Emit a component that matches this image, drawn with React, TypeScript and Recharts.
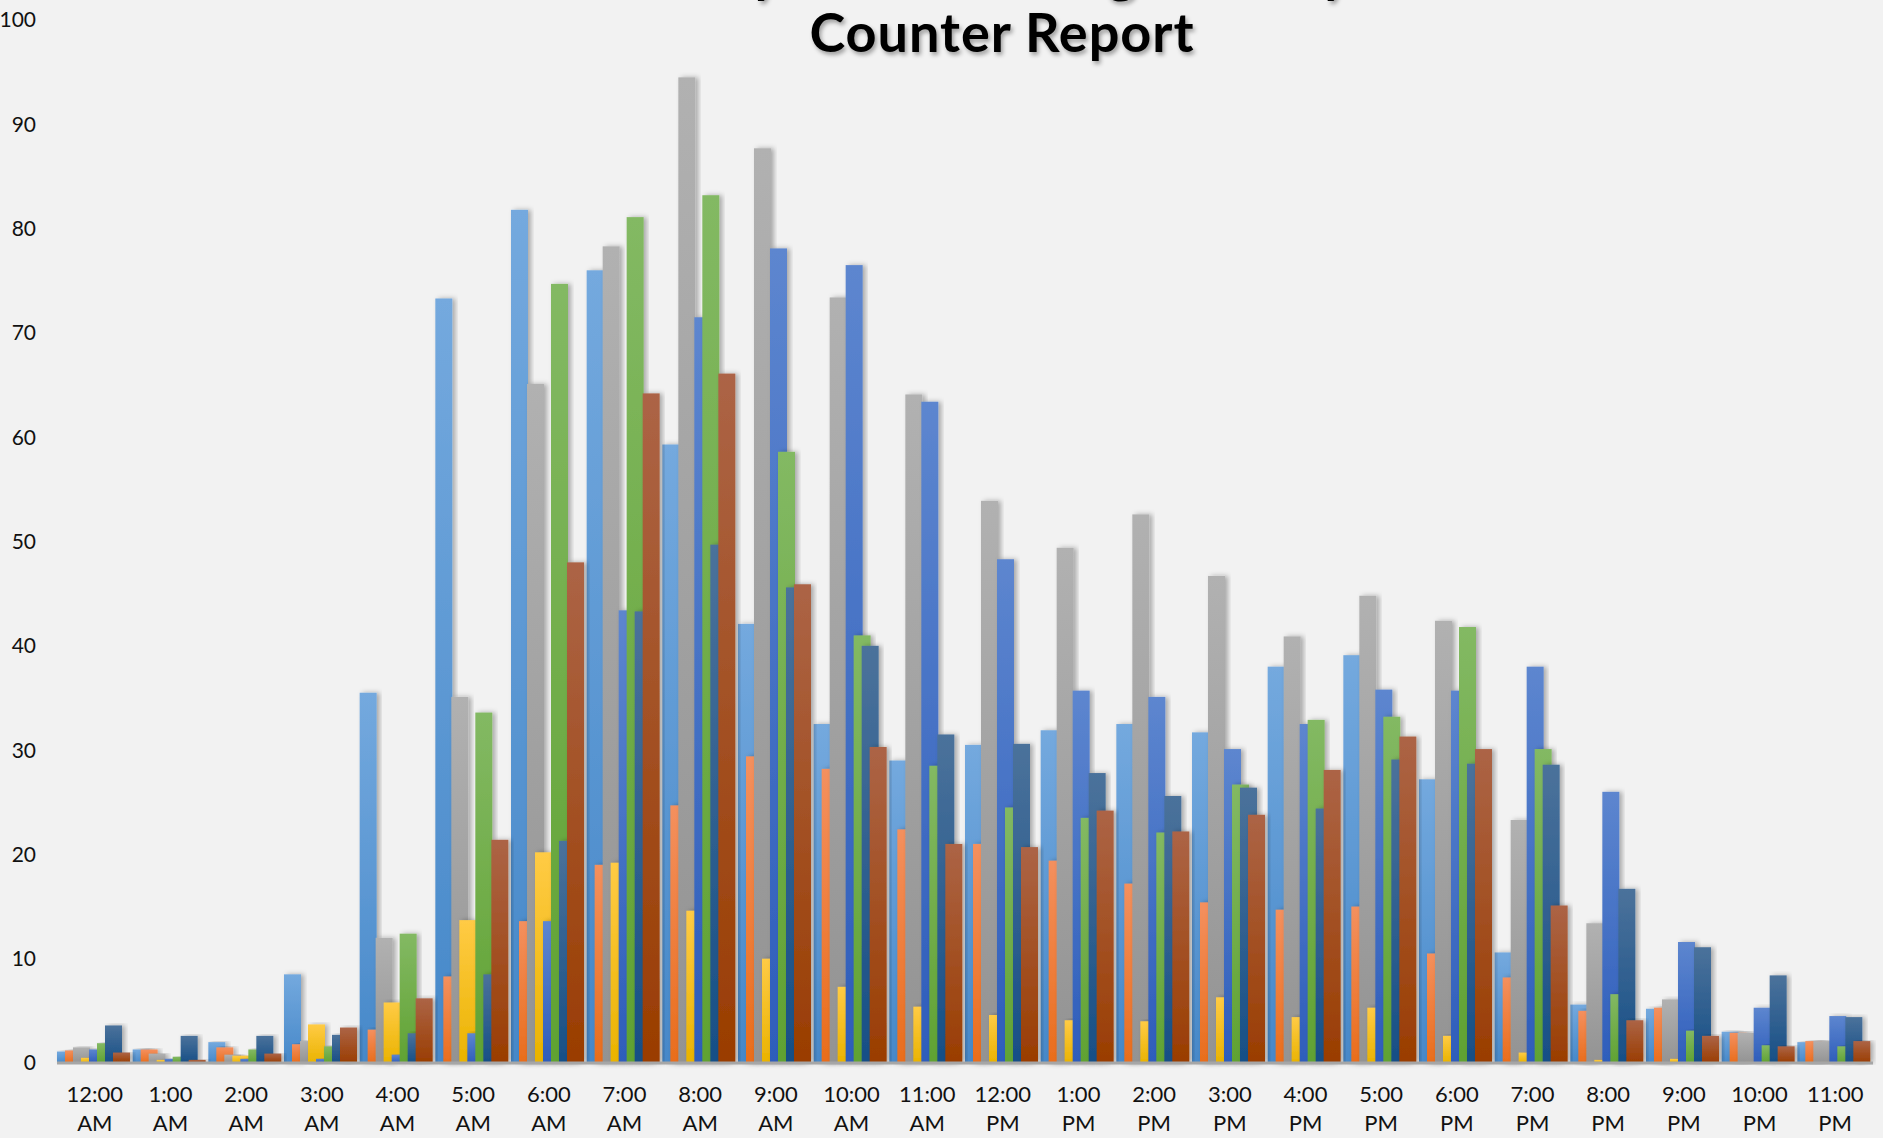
import React from 'react';
import { BarChart, Bar, XAxis, YAxis } from 'recharts';

const hours = [
  '12:00 AM', '1:00 AM', '2:00 AM', '3:00 AM', '4:00 AM', '5:00 AM',
  '6:00 AM', '7:00 AM', '8:00 AM', '9:00 AM', '10:00 AM', '11:00 AM',
  '12:00 PM', '1:00 PM', '2:00 PM', '3:00 PM', '4:00 PM', '5:00 PM',
  '6:00 PM', '7:00 PM', '8:00 PM', '9:00 PM', '10:00 PM', '11:00 PM'
];

const series1 = [1.1, 1.3, 2.0, 8.5, 35.5, 73.3, 81.8, 76.0, 59.3, 42.1, 32.5, 29.0, 30.5, 31.9, 32.5, 31.7, 38.0, 39.1, 27.2, 10.6, 5.6, 5.2, 3.0, 2.0];
const series2 = [1.2, 1.3, 1.5, 1.8, 3.2, 8.3, 13.6, 19.0, 24.7, 29.4, 28.2, 22.4, 21.0, 19.4, 17.2, 15.4, 14.7, 15.0, 10.5, 8.2, 5.0, 5.3, 2.9, 2.1];
const series3 = [1.5, 0.9, 0.8, 2.1, 12.0, 35.1, 65.1, 78.3, 94.5, 87.7, 73.4, 64.1, 53.9, 49.4, 52.6, 46.7, 40.9, 44.8, 42.4, 23.3, 13.4, 6.1, 2.9, 2.1];
const series4 = [0.5, 0.3, 0.7, 3.7, 5.8, 13.7, 20.2, 19.2, 14.6, 10.0, 7.3, 5.4, 4.6, 4.1, 4.0, 6.3, 4.4, 5.3, 2.6, 1.0, 0.3, 0.4, 0.1, 0.1];
const series5 = [1.3, 0.4, 0.4, 0.4, 0.8, 2.85, 13.6, 43.4, 71.5, 78.1, 76.5, 63.4, 48.3, 35.7, 35.1, 30.1, 32.5, 35.8, 35.7, 38.0, 26.0, 11.6, 5.3, 4.5];
const series6 = [1.9, 0.6, 1.3, 1.6, 12.4, 33.6, 74.7, 81.1, 83.2, 58.6, 41.0, 28.5, 24.5, 23.5, 22.1, 26.7, 32.9, 33.2, 41.8, 30.1, 6.6, 3.1, 1.7, 1.6];
const series7 = [3.6, 2.6, 2.6, 2.7, 2.85, 8.5, 21.3, 43.3, 49.7, 45.6, 40.0, 31.5, 30.6, 27.8, 25.6, 26.4, 24.4, 29.1, 28.7, 28.6, 16.7, 11.1, 8.4, 4.4];
const series8 = [1.0, 0.3, 0.9, 3.4, 6.2, 21.4, 48.0, 64.2, 66.1, 45.9, 30.3, 21.0, 20.7, 24.2, 22.2, 23.8, 28.1, 31.3, 30.1, 15.1, 4.1, 2.6, 1.6, 2.1];

const yTicks = [0, 10, 20, 30, 40, 50, 60, 70, 80, 90, 100];

const SERIES = [
  { key: 's1', top: '#74a9de', bottom: '#4688c9' },
  { key: 's2', top: '#f4905e', bottom: '#e96d1c' },
  { key: 's3', top: '#b1b1b1', bottom: '#939393' },
  { key: 's4', top: '#ffcb45', bottom: '#eab300' },
  { key: 's5', top: '#5d86cf', bottom: '#2e5dbb' },
  { key: 's6', top: '#83b963', bottom: '#60a232' },
  { key: 's7', top: '#4b729b', bottom: '#174f86' },
  { key: 's8', top: '#ac6446', bottom: '#9a3d01' }
];

const allSeries = [series1, series2, series3, series4, series5, series6, series7, series8];

const data = hours.map((hour, i) => {
  const row: { [key: string]: string | number } = { hour };
  SERIES.forEach((s, j) => {
    row[s.key] = allSeries[j][i];
  });
  return row;
});

const FONT = 'Lato, "Open Sans", sans-serif';

const HourTick = ({ x, y, payload }: { x?: number; y?: number; payload?: { value: string } }) => {
  const [time, ampm] = (payload?.value || '').split(' ');
  return (
    <text x={x} y={y} textAnchor="middle" fontFamily={FONT} fontSize={22} fill="#111">
      <tspan x={x} dy={31}>{time}</tspan>
      <tspan x={x} dy={29}>{ampm}</tspan>
    </text>
  );
};

const makeShape = (gradId: string) => (props: any) => {
  const { x, y, width, height } = props;
  if (!height || height <= 0) return <g />;
  return (
    <rect x={x} y={y} width={width} height={height} fill={`url(#${gradId})`} filter="url(#barShadow)" />
  );
};

export default function App() {
  return (
    <div style={{ position: 'absolute', left: 0, top: 0, width: 1883, height: 1138, background: '#f2f2f2', overflow: 'hidden' }}>
      <svg width={1883} height={80} style={{ position: 'absolute', left: 0, top: 0, zIndex: 2 }}>
        <defs>
          <filter id="titleShadow" x="-10%" y="-50%" width="120%" height="200%">
            <feDropShadow dx="2" dy="3" stdDeviation="2" floodColor="#000" floodOpacity="0.35" />
          </filter>
        </defs>
        <g filter="url(#titleShadow)" fontFamily={FONT} fontWeight="bold" fill="#000" textAnchor="middle" letterSpacing={1}>
          {/* first title line sits above the frame; only its descenders show */}
          <text x={950} y={-8} fontSize={54}>Weekday Traffic Average Hourly</text>
          <text x={1002} y={52} fontSize={54}>Counter Report</text>
        </g>
      </svg>
      <BarChart
        width={1883}
        height={1138}
        data={data}
        margin={{ top: 20, right: 10, bottom: 0, left: 0 }}
        barCategoryGap={0}
        barGap={-9}
      >
        <defs>
          {SERIES.map((s) => (
            <linearGradient key={s.key} id={`grad-${s.key}`} x1="0" y1="0" x2="0" y2="1">
              <stop offset="0%" stopColor={s.top} />
              <stop offset="100%" stopColor={s.bottom} />
            </linearGradient>
          ))}
          <filter id="barShadow" x="-30%" y="-5%" width="160%" height="110%">
            <feDropShadow dx="3" dy="0" stdDeviation="2.5" floodColor="#000" floodOpacity="0.3" />
          </filter>
        </defs>
        <XAxis
          dataKey="hour"
          height={75}
          interval={0}
          tickLine={false}
          axisLine={{ stroke: '#a6a6a6', strokeWidth: 3 }}
          tick={<HourTick />}
        />
        <YAxis
          width={57}
          domain={[0, 100]}
          ticks={yTicks}
          axisLine={false}
          tickLine={false}
          tickMargin={15}
          tick={{ fontFamily: FONT, fontSize: 21, fill: '#111' }}
        />
        {SERIES.map((s) => (
          <Bar
            key={s.key}
            dataKey={s.key}
            isAnimationActive={false}
            shape={makeShape(`grad-${s.key}`)}
          />
        ))}
      </BarChart>
    </div>
  );
}
